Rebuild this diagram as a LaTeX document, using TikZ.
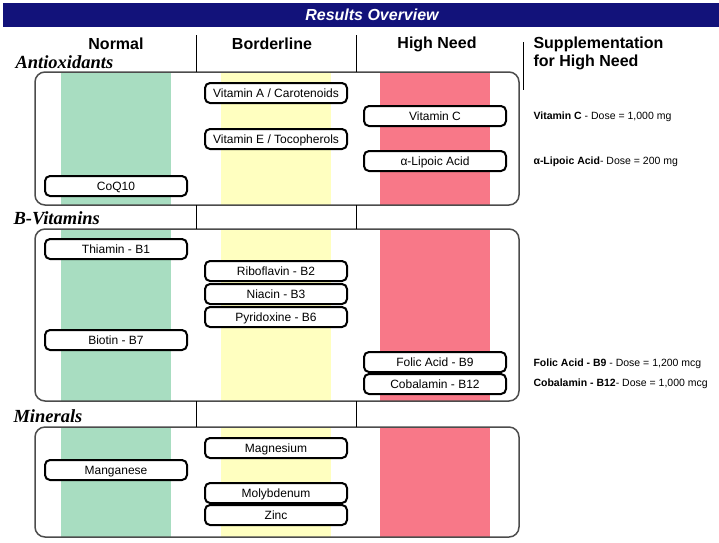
\documentclass[tikz,border=0pt]{standalone}
\usepackage{fontspec}
\setmainfont{Liberation Sans}
\newfontfamily\catserif{Liberation Serif}
\usepackage{tikz}
\usetikzlibrary{positioning}
\definecolor{titleblue}{HTML}{12127A}
\definecolor{normalgreen}{HTML}{A8DDC1}
\definecolor{borderyellow}{HTML}{FFFFC0}
\definecolor{highred}{HTML}{F87888}

\begin{document}
\begin{tikzpicture}[x=1pt, y=-1pt,
    item/.style={draw, line width=2pt, rounded corners=5pt, fill=white, minimum width=142pt, minimum height=20pt, inner sep=0pt, text height=9pt, text depth=0pt, font=\fontsize{12}{14}\selectfont},
    group/.style={draw=black!70, line width=1.5pt, rounded corners=10pt},
    head/.style={font=\bfseries\fontsize{16}{18}\selectfont},
    cat/.style={anchor=west, font=\catserif\bfseries\itshape\fontsize{18.5}{20}\selectfont},
    dose/.style={anchor=west, font=\fontsize{10.5}{12}\selectfont}]
    \useasboundingbox (0,0) rectangle (719,542);

    % title bar
    \fill[titleblue] (3,3) rectangle (719,27);
    \node[text=white, font=\bfseries\itshape\fontsize{16}{18}\selectfont] (title) at (372,15) {Results Overview};

    % column heads
    \node[head] (normal) at (116,44) {Normal};
    \node[head] (border) at (272,44) {Borderline};
    \node[head] (high) at (437,44) {High Need};
    \node[head, anchor=west, align=left] (supp) at (530,53) {Supplementation\\for High Need};
    \draw[line width=1pt] (523,42) -- (523,90);

    % group boxes with coloured columns
    \foreach \top/\bot in {72/205, 229/401, 427/537} {
        \fill[normalgreen] (61,\top) rectangle (171,\bot);
        \fill[borderyellow] (221,\top) rectangle (331,\bot);
        \fill[highred] (380,\top) rectangle (490,\bot);
        \draw[group] (35,\top) rectangle (519,\bot);
    }
    \foreach \x in {196,356} {
        \draw[line width=1pt] (\x,35) -- (\x,72);
        \draw[line width=1pt] (\x,205) -- (\x,229);
        \draw[line width=1pt] (\x,401) -- (\x,427);
    }

    \node[cat] (anti) at (12,62) {Antioxidants};
    \node[cat] (bvit) at (10,218) {B-Vitamins};
    \node[cat] (mine) at (10,416) {Minerals};

    % antioxidants
    \node[item] (vita) at (276,93) {Vitamin A / Carotenoids};
    \node[item] (vite) at (276,139) {Vitamin E / Tocopherols};
    \node[item] (vitc) at (435,116) {Vitamin C};
    \node[item] (lipo) at (435,161) {α-Lipoic Acid};
    \node[item] (coq) at (116,186) {CoQ10};

    % b-vitamins
    \node[item] (thia) at (116,249) {Thiamin - B1};
    \node[item] (ribo) at (276,271) {Riboflavin - B2};
    \node[item, below=1pt of ribo] (niac) {Niacin - B3};
    \node[item, below=1pt of niac] (pyri) {Pyridoxine - B6};
    \node[item] (biot) at (116,340) {Biotin - B7};
    \node[item] (fola) at (435,362) {Folic Acid - B9};
    \node[item, below=0pt of fola] (coba) {Cobalamin - B12};

    % minerals
    \node[item] (magn) at (276,448) {Magnesium};
    \node[item] (mang) at (116,470) {Manganese};
    \node[item] (moly) at (276,493) {Molybdenum};
    \node[item, below=0pt of moly] (zinc) {Zinc};

    % doses
    \node[dose] (dvitc) at (530,117) {\textbf{Vitamin C} - Dose = 1,000 mg};
    \node[dose] (dlipo) at (530,162) {\textbf{α-Lipoic Acid}- Dose = 200 mg};
    \node[dose] (dfola) at (530,364) {\textbf{Folic Acid - B9} - Dose = 1,200 mcg};
    \node[dose] (dcoba) at (530,384) {\textbf{Cobalamin - B12}- Dose = 1,000 mcg};
\end{tikzpicture}
\end{document}
